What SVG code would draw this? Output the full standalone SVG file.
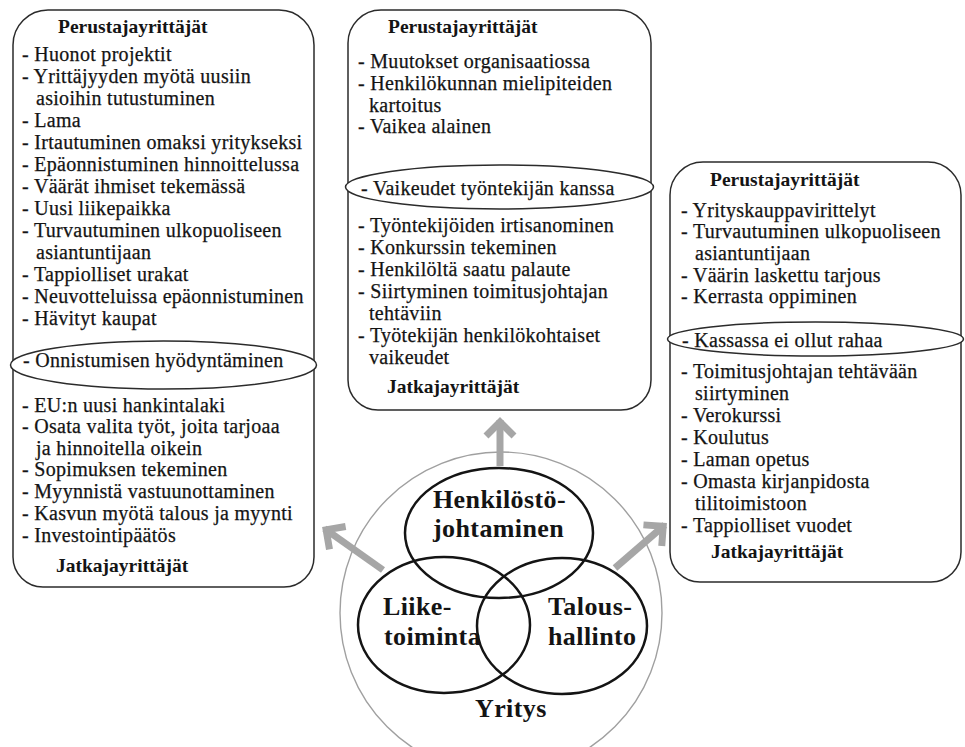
<svg xmlns="http://www.w3.org/2000/svg" width="965" height="747" viewBox="0 0 965 747">
  <style>
    .frame { fill: none; stroke: #2b2b2b; stroke-width: 1.5; }
    .band { fill: #ffffff; stroke: #2b2b2b; stroke-width: 1.5; }
    .item { font-family: "Liberation Serif", "Times New Roman", serif; font-size: 20px; letter-spacing: 0.3px; fill: #141414; stroke: #141414; stroke-width: 0.25px; }
    .head { font-family: "Liberation Serif", "Times New Roman", serif; font-size: 19.5px; font-weight: bold; fill: #141414; }
    .area { fill: none; stroke: #141414; stroke-width: 2.5; }
    .area-label { font-family: "Liberation Serif", "Times New Roman", serif; font-size: 26px; font-weight: bold; letter-spacing: 0.4px; fill: #141414; }
    .arrow { fill: none; stroke: #a6a6a6; stroke-width: 7; marker-end: url(#chev); }
  </style>
  <defs>
    <marker id="chev" markerUnits="userSpaceOnUse" markerWidth="44" markerHeight="44" viewBox="0 0 44 44" refX="34" refY="22" orient="auto">
      <path d="M18 8 L32 22 L18 36" fill="none" stroke="#a6a6a6" stroke-width="7" stroke-linejoin="miter"/>
    </marker>
  </defs>

  <rect width="965" height="747" fill="#ffffff"/>

  <!-- Left panel: Liiketoiminta -->
  <g id="panel-liiketoiminta">
    <path class="frame" d="M13,365 V45 A35,35 0 0 1 48,10 H279 A35,35 0 0 1 314,45 V365"/>
    <path class="frame" d="M13,365 V557 A30,30 0 0 0 43,587 H284 A30,30 0 0 0 314,557 V365"/>
    <ellipse class="band" cx="163.5" cy="365" rx="153" ry="24"/>
    <text class="head" x="58" y="33">Perustajayrittäjät</text>
    <text class="item" x="22" y="61">- Huonot projektit</text>
    <text class="item" x="22" y="83">- Yrittäjyyden myötä uusiin</text>
    <text class="item" x="36" y="105">asioihin tutustuminen</text>
    <text class="item" x="22" y="127">- Lama</text>
    <text class="item" x="22" y="149">- Irtautuminen omaksi yritykseksi</text>
    <text class="item" x="22" y="171">- Epäonnistuminen hinnoittelussa</text>
    <text class="item" x="22" y="193">- Väärät ihmiset tekemässä</text>
    <text class="item" x="22" y="215">- Uusi liikepaikka</text>
    <text class="item" x="22" y="237">- Turvautuminen ulkopuoliseen</text>
    <text class="item" x="36" y="259">asiantuntijaan</text>
    <text class="item" x="22" y="281">- Tappiolliset urakat</text>
    <text class="item" x="22" y="303">- Neuvotteluissa epäonnistuminen</text>
    <text class="item" x="22" y="325">- Hävityt kaupat</text>
    <text class="item" x="23" y="367">- Onnistumisen hyödyntäminen</text>
    <text class="item" x="22" y="412">- EU:n uusi hankintalaki</text>
    <text class="item" x="22" y="433">- Osata valita työt, joita tarjoaa</text>
    <text class="item" x="36" y="455">ja hinnoitella oikein</text>
    <text class="item" x="22" y="476">- Sopimuksen tekeminen</text>
    <text class="item" x="22" y="498">- Myynnistä vastuunottaminen</text>
    <text class="item" x="22" y="520">- Kasvun myötä talous ja myynti</text>
    <text class="item" x="22" y="542">- Investointipäätös</text>
    <text class="head" x="56" y="572">Jatkajayrittäjät</text>
  </g>

  <!-- Centre panel: Henkilöstöjohtaminen -->
  <g id="panel-henkilosto">
    <path class="frame" d="M348,187 V43 A33,33 0 0 1 381,10 H618 A33,33 0 0 1 651,43 V187"/>
    <path class="frame" d="M348,187 V380 A30,30 0 0 0 378,410 H621 A30,30 0 0 0 651,380 V187"/>
    <ellipse class="band" cx="499.5" cy="187" rx="154" ry="22"/>
    <text class="head" x="388" y="33">Perustajayrittäjät</text>
    <text class="item" x="358" y="68">- Muutokset organisaatiossa</text>
    <text class="item" x="358" y="90">- Henkilökunnan mielipiteiden</text>
    <text class="item" x="369" y="112">kartoitus</text>
    <text class="item" x="358" y="133">- Vaikea alainen</text>
    <text class="item" x="361" y="195">- Vaikeudet työntekijän kanssa</text>
    <text class="item" x="358" y="232">- Työntekijöiden irtisanominen</text>
    <text class="item" x="358" y="254">- Konkurssin tekeminen</text>
    <text class="item" x="358" y="276">- Henkilöltä saatu palaute</text>
    <text class="item" x="358" y="298">- Siirtyminen toimitusjohtajan</text>
    <text class="item" x="369" y="320">tehtäviin</text>
    <text class="item" x="358" y="342">- Työtekijän henkilökohtaiset</text>
    <text class="item" x="369" y="364">vaikeudet</text>
    <text class="head" x="387" y="393">Jatkajayrittäjät</text>
  </g>

  <!-- Right panel: Taloushallinto -->
  <g id="panel-talous">
    <path class="frame" d="M670,339 V195 A33,33 0 0 1 703,162 H928 A33,33 0 0 1 961,195 V339"/>
    <path class="frame" d="M670,339 V552 A30,30 0 0 0 700,582 H931 A30,30 0 0 0 961,552 V339"/>
    <ellipse class="band" cx="815.5" cy="339" rx="148" ry="17"/>
    <text class="head" x="710" y="186">Perustajayrittäjät</text>
    <text class="item" x="681" y="217">- Yrityskauppavirittelyt</text>
    <text class="item" x="681" y="238">- Turvautuminen ulkopuoliseen</text>
    <text class="item" x="695" y="260">asiantuntijaan</text>
    <text class="item" x="681" y="282">- Väärin laskettu tarjous</text>
    <text class="item" x="681" y="303">- Kerrasta oppiminen</text>
    <text class="item" x="682" y="347">- Kassassa ei ollut rahaa</text>
    <text class="item" x="681" y="378">- Toimitusjohtajan tehtävään</text>
    <text class="item" x="695" y="400">siirtyminen</text>
    <text class="item" x="681" y="422">- Verokurssi</text>
    <text class="item" x="681" y="444">- Koulutus</text>
    <text class="item" x="681" y="466">- Laman opetus</text>
    <text class="item" x="681" y="488">- Omasta kirjanpidosta</text>
    <text class="item" x="695" y="510">tilitoimistoon</text>
    <text class="item" x="681" y="532">- Tappiolliset vuodet</text>
    <text class="head" x="711" y="558">Jatkajayrittäjät</text>
  </g>

  <!-- Company circle -->
  <g id="yritys">
    <circle cx="501" cy="613" r="161" fill="none" stroke="#a0a0a0" stroke-width="1.4"/>
    <text class="area-label" x="475" y="717">Yritys</text>
  </g>

  <!-- Arrows from the company areas to the panels -->
  <g id="connectors">
    <path class="arrow" d="M500,466 L500,420"/>
    <path class="arrow" d="M383,570 L324.5,528.7"/>
    <path class="arrow" d="M615,568 L664.7,525"/>
  </g>

  <!-- Overlapping management areas -->
  <g id="area-henkilosto">
    <ellipse class="area" cx="499" cy="533" rx="94" ry="65"/>
    <text class="area-label" x="433" y="508">Henkilöstö-</text>
    <text class="area-label" x="433" y="537">johtaminen</text>
  </g>
  <g id="area-liiketoiminta">
    <ellipse class="area" cx="444" cy="625" rx="86" ry="68"/>
    <text class="area-label" x="383" y="615">Liike-</text>
    <text class="area-label" x="384" y="645">toiminta</text>
  </g>
  <g id="area-talous">
    <ellipse class="area" cx="562" cy="626" rx="85" ry="68"/>
    <text class="area-label" x="548" y="615">Talous-</text>
    <text class="area-label" x="548" y="645">hallinto</text>
  </g>
</svg>
